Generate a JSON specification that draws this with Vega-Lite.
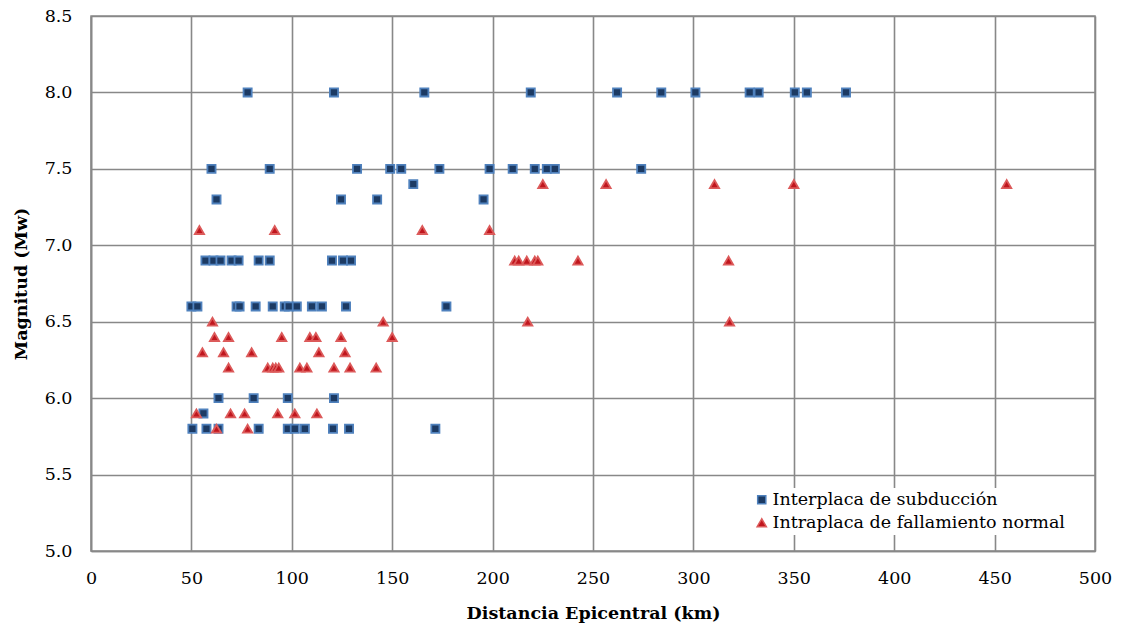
{
  "$schema": "https://vega.github.io/schema/vega-lite/v6.json",
  "width": 1004,
  "height": 535,
  "autosize": {"type": "none"},
  "padding": {"left": 91, "top": 16, "right": 26, "bottom": 83},
  "background": "white",
  "config": {
    "view": {"stroke": "#8c8c8c", "strokeWidth": 1.5},
    "font": "DejaVu Serif"
  },
  "datasets": {
    "pts": [
      {"d": 78, "m": 8.0, "s": "Interplaca de subducción"},
      {"d": 121, "m": 8.0, "s": "Interplaca de subducción"},
      {"d": 166, "m": 8.0, "s": "Interplaca de subducción"},
      {"d": 219, "m": 8.0, "s": "Interplaca de subducción"},
      {"d": 262, "m": 8.0, "s": "Interplaca de subducción"},
      {"d": 284, "m": 8.0, "s": "Interplaca de subducción"},
      {"d": 301, "m": 8.0, "s": "Interplaca de subducción"},
      {"d": 328, "m": 8.0, "s": "Interplaca de subducción"},
      {"d": 332.5, "m": 8.0, "s": "Interplaca de subducción"},
      {"d": 350.5, "m": 8.0, "s": "Interplaca de subducción"},
      {"d": 356.5, "m": 8.0, "s": "Interplaca de subducción"},
      {"d": 376, "m": 8.0, "s": "Interplaca de subducción"},
      {"d": 60, "m": 7.5, "s": "Interplaca de subducción"},
      {"d": 89, "m": 7.5, "s": "Interplaca de subducción"},
      {"d": 132.5, "m": 7.5, "s": "Interplaca de subducción"},
      {"d": 149, "m": 7.5, "s": "Interplaca de subducción"},
      {"d": 154.5, "m": 7.5, "s": "Interplaca de subducción"},
      {"d": 173.5, "m": 7.5, "s": "Interplaca de subducción"},
      {"d": 198.5, "m": 7.5, "s": "Interplaca de subducción"},
      {"d": 210, "m": 7.5, "s": "Interplaca de subducción"},
      {"d": 221, "m": 7.5, "s": "Interplaca de subducción"},
      {"d": 227, "m": 7.5, "s": "Interplaca de subducción"},
      {"d": 231, "m": 7.5, "s": "Interplaca de subducción"},
      {"d": 274, "m": 7.5, "s": "Interplaca de subducción"},
      {"d": 160.5, "m": 7.4, "s": "Interplaca de subducción"},
      {"d": 62.5, "m": 7.3, "s": "Interplaca de subducción"},
      {"d": 124.5, "m": 7.3, "s": "Interplaca de subducción"},
      {"d": 142.5, "m": 7.3, "s": "Interplaca de subducción"},
      {"d": 195.5, "m": 7.3, "s": "Interplaca de subducción"},
      {"d": 57, "m": 6.9, "s": "Interplaca de subducción"},
      {"d": 61, "m": 6.9, "s": "Interplaca de subducción"},
      {"d": 64.5, "m": 6.9, "s": "Interplaca de subducción"},
      {"d": 70, "m": 6.9, "s": "Interplaca de subducción"},
      {"d": 73.5, "m": 6.9, "s": "Interplaca de subducción"},
      {"d": 83.5, "m": 6.9, "s": "Interplaca de subducción"},
      {"d": 89, "m": 6.9, "s": "Interplaca de subducción"},
      {"d": 120, "m": 6.9, "s": "Interplaca de subducción"},
      {"d": 125.5, "m": 6.9, "s": "Interplaca de subducción"},
      {"d": 129.5, "m": 6.9, "s": "Interplaca de subducción"},
      {"d": 50, "m": 6.6, "s": "Interplaca de subducción"},
      {"d": 53, "m": 6.6, "s": "Interplaca de subducción"},
      {"d": 72.5, "m": 6.6, "s": "Interplaca de subducción"},
      {"d": 74, "m": 6.6, "s": "Interplaca de subducción"},
      {"d": 82, "m": 6.6, "s": "Interplaca de subducción"},
      {"d": 90.5, "m": 6.6, "s": "Interplaca de subducción"},
      {"d": 96.5, "m": 6.6, "s": "Interplaca de subducción"},
      {"d": 98.5, "m": 6.6, "s": "Interplaca de subducción"},
      {"d": 102.5, "m": 6.6, "s": "Interplaca de subducción"},
      {"d": 110, "m": 6.6, "s": "Interplaca de subducción"},
      {"d": 115, "m": 6.6, "s": "Interplaca de subducción"},
      {"d": 127, "m": 6.6, "s": "Interplaca de subducción"},
      {"d": 177, "m": 6.6, "s": "Interplaca de subducción"},
      {"d": 63.5, "m": 6.0, "s": "Interplaca de subducción"},
      {"d": 81, "m": 6.0, "s": "Interplaca de subducción"},
      {"d": 98, "m": 6.0, "s": "Interplaca de subducción"},
      {"d": 121, "m": 6.0, "s": "Interplaca de subducción"},
      {"d": 56, "m": 5.9, "s": "Interplaca de subducción"},
      {"d": 50.5, "m": 5.8, "s": "Interplaca de subducción"},
      {"d": 57.5, "m": 5.8, "s": "Interplaca de subducción"},
      {"d": 63.5, "m": 5.8, "s": "Interplaca de subducción"},
      {"d": 83.5, "m": 5.8, "s": "Interplaca de subducción"},
      {"d": 98, "m": 5.8, "s": "Interplaca de subducción"},
      {"d": 101.5, "m": 5.8, "s": "Interplaca de subducción"},
      {"d": 106.5, "m": 5.8, "s": "Interplaca de subducción"},
      {"d": 120.5, "m": 5.8, "s": "Interplaca de subducción"},
      {"d": 128.5, "m": 5.8, "s": "Interplaca de subducción"},
      {"d": 171.5, "m": 5.8, "s": "Interplaca de subducción"},
      {"d": 225, "m": 7.4, "s": "Intraplaca de fallamiento normal"},
      {"d": 256.5, "m": 7.4, "s": "Intraplaca de fallamiento normal"},
      {"d": 310.5, "m": 7.4, "s": "Intraplaca de fallamiento normal"},
      {"d": 350, "m": 7.4, "s": "Intraplaca de fallamiento normal"},
      {"d": 456, "m": 7.4, "s": "Intraplaca de fallamiento normal"},
      {"d": 54, "m": 7.1, "s": "Intraplaca de fallamiento normal"},
      {"d": 91.5, "m": 7.1, "s": "Intraplaca de fallamiento normal"},
      {"d": 165, "m": 7.1, "s": "Intraplaca de fallamiento normal"},
      {"d": 198.5, "m": 7.1, "s": "Intraplaca de fallamiento normal"},
      {"d": 211, "m": 6.9, "s": "Intraplaca de fallamiento normal"},
      {"d": 213, "m": 6.9, "s": "Intraplaca de fallamiento normal"},
      {"d": 217, "m": 6.9, "s": "Intraplaca de fallamiento normal"},
      {"d": 221, "m": 6.9, "s": "Intraplaca de fallamiento normal"},
      {"d": 222.5, "m": 6.9, "s": "Intraplaca de fallamiento normal"},
      {"d": 242.5, "m": 6.9, "s": "Intraplaca de fallamiento normal"},
      {"d": 317.5, "m": 6.9, "s": "Intraplaca de fallamiento normal"},
      {"d": 60.5, "m": 6.5, "s": "Intraplaca de fallamiento normal"},
      {"d": 145.5, "m": 6.5, "s": "Intraplaca de fallamiento normal"},
      {"d": 217.5, "m": 6.5, "s": "Intraplaca de fallamiento normal"},
      {"d": 318, "m": 6.5, "s": "Intraplaca de fallamiento normal"},
      {"d": 61.5, "m": 6.4, "s": "Intraplaca de fallamiento normal"},
      {"d": 68.5, "m": 6.4, "s": "Intraplaca de fallamiento normal"},
      {"d": 95, "m": 6.4, "s": "Intraplaca de fallamiento normal"},
      {"d": 109, "m": 6.4, "s": "Intraplaca de fallamiento normal"},
      {"d": 112, "m": 6.4, "s": "Intraplaca de fallamiento normal"},
      {"d": 124.5, "m": 6.4, "s": "Intraplaca de fallamiento normal"},
      {"d": 150, "m": 6.4, "s": "Intraplaca de fallamiento normal"},
      {"d": 55.5, "m": 6.3, "s": "Intraplaca de fallamiento normal"},
      {"d": 66, "m": 6.3, "s": "Intraplaca de fallamiento normal"},
      {"d": 80, "m": 6.3, "s": "Intraplaca de fallamiento normal"},
      {"d": 113.5, "m": 6.3, "s": "Intraplaca de fallamiento normal"},
      {"d": 126.5, "m": 6.3, "s": "Intraplaca de fallamiento normal"},
      {"d": 68.5, "m": 6.2, "s": "Intraplaca de fallamiento normal"},
      {"d": 88, "m": 6.2, "s": "Intraplaca de fallamiento normal"},
      {"d": 90.5, "m": 6.2, "s": "Intraplaca de fallamiento normal"},
      {"d": 92, "m": 6.2, "s": "Intraplaca de fallamiento normal"},
      {"d": 93.5, "m": 6.2, "s": "Intraplaca de fallamiento normal"},
      {"d": 104, "m": 6.2, "s": "Intraplaca de fallamiento normal"},
      {"d": 107.5, "m": 6.2, "s": "Intraplaca de fallamiento normal"},
      {"d": 121, "m": 6.2, "s": "Intraplaca de fallamiento normal"},
      {"d": 129, "m": 6.2, "s": "Intraplaca de fallamiento normal"},
      {"d": 142, "m": 6.2, "s": "Intraplaca de fallamiento normal"},
      {"d": 52.5, "m": 5.9, "s": "Intraplaca de fallamiento normal"},
      {"d": 69.5, "m": 5.9, "s": "Intraplaca de fallamiento normal"},
      {"d": 76.5, "m": 5.9, "s": "Intraplaca de fallamiento normal"},
      {"d": 93, "m": 5.9, "s": "Intraplaca de fallamiento normal"},
      {"d": 101.5, "m": 5.9, "s": "Intraplaca de fallamiento normal"},
      {"d": 112.5, "m": 5.9, "s": "Intraplaca de fallamiento normal"},
      {"d": 62.5, "m": 5.8, "s": "Intraplaca de fallamiento normal"},
      {"d": 78, "m": 5.8, "s": "Intraplaca de fallamiento normal"}
    ]
  },
  "data": {"name": "pts"},
  "mark": {"type": "point", "filled": true, "opacity": 1, "strokeWidth": 1.8},
  "encoding": {
    "x": {
      "field": "d", "type": "quantitative",
      "scale": {"domain": [0, 500], "nice": false, "zero": false},
      "axis": {
        "title": "Distancia Epicentral (km)", "values": [0, 50, 100, 150, 200, 250, 300, 350, 400, 450, 500],
        "grid": true, "gridColor": "#888888", "gridWidth": 1.6, "gridOpacity": 1,
        "domainColor": "#888888", "domainWidth": 1.6, "ticks": false,
        "labelFont": "DejaVu Serif", "labelFontSize": 17.5, "labelColor": "#000", "labelPadding": 18,
        "labelFlush": false, "labelOverlap": false,
        "titleFont": "DejaVu Serif", "titleFontSize": 17.5, "titleFontWeight": "bold", "titleColor": "#000", "titlePadding": 18
      }
    },
    "y": {
      "field": "m", "type": "quantitative",
      "scale": {"domain": [5, 8.5], "nice": false, "zero": false},
      "axis": {
        "title": "Magnitud (Mw)", "values": [5, 5.5, 6, 6.5, 7, 7.5, 8, 8.5], "format": ".1f",
        "grid": true, "gridColor": "#888888", "gridWidth": 1.6, "gridOpacity": 1,
        "domainColor": "#888888", "domainWidth": 1.6, "ticks": false,
        "labelFont": "DejaVu Serif", "labelFontSize": 17.5, "labelColor": "#000", "labelPadding": 19,
        "labelFlush": false, "labelOverlap": false,
        "titleFont": "DejaVu Serif", "titleFontSize": 17.5, "titleFontWeight": "bold", "titleColor": "#000", "titlePadding": 14
      }
    },
    "shape": {
      "field": "s", "type": "nominal",
      "scale": {"domain": ["Interplaca de subducción", "Intraplaca de fallamiento normal"], "range": ["square", "triangle-up"]},
      "legend": {
        "title": null, "orient": "none", "legendX": 659, "legendY": 472,
        "fillColor": "white", "padding": 3, "rowPadding": 4,
        "labelFont": "DejaVu Serif", "labelFontSize": 17.5, "labelColor": "#000", "labelLimit": 500,
        "symbolSize": 50, "symbolStrokeWidth": 1.5, "labelOffset": 2
      }
    },
    "color": {
      "field": "s", "type": "nominal",
      "scale": {"domain": ["Interplaca de subducción", "Intraplaca de fallamiento normal"], "range": ["#1c3a63", "#c0161e"]},
      "legend": {
        "title": null, "orient": "none", "legendX": 659, "legendY": 472,
        "fillColor": "white", "padding": 3, "rowPadding": 4,
        "labelFont": "DejaVu Serif", "labelFontSize": 17.5, "labelColor": "#000", "labelLimit": 500,
        "symbolSize": 50, "symbolStrokeWidth": 1.5, "labelOffset": 2
      }
    },
    "stroke": {
      "field": "s", "type": "nominal",
      "scale": {"domain": ["Interplaca de subducción", "Intraplaca de fallamiento normal"], "range": ["#4f81bd", "#dc5a5a"]},
      "legend": {
        "title": null, "orient": "none", "legendX": 659, "legendY": 472,
        "fillColor": "white", "padding": 3, "rowPadding": 4,
        "labelFont": "DejaVu Serif", "labelFontSize": 17.5, "labelColor": "#000", "labelLimit": 500,
        "symbolSize": 50, "symbolStrokeWidth": 1.5, "labelOffset": 2
      }
    },
    "size": {
      "field": "s", "type": "nominal",
      "scale": {"domain": ["Interplaca de subducción", "Intraplaca de fallamiento normal"], "range": [66, 85]},
      "legend": null
    }
  }
}
